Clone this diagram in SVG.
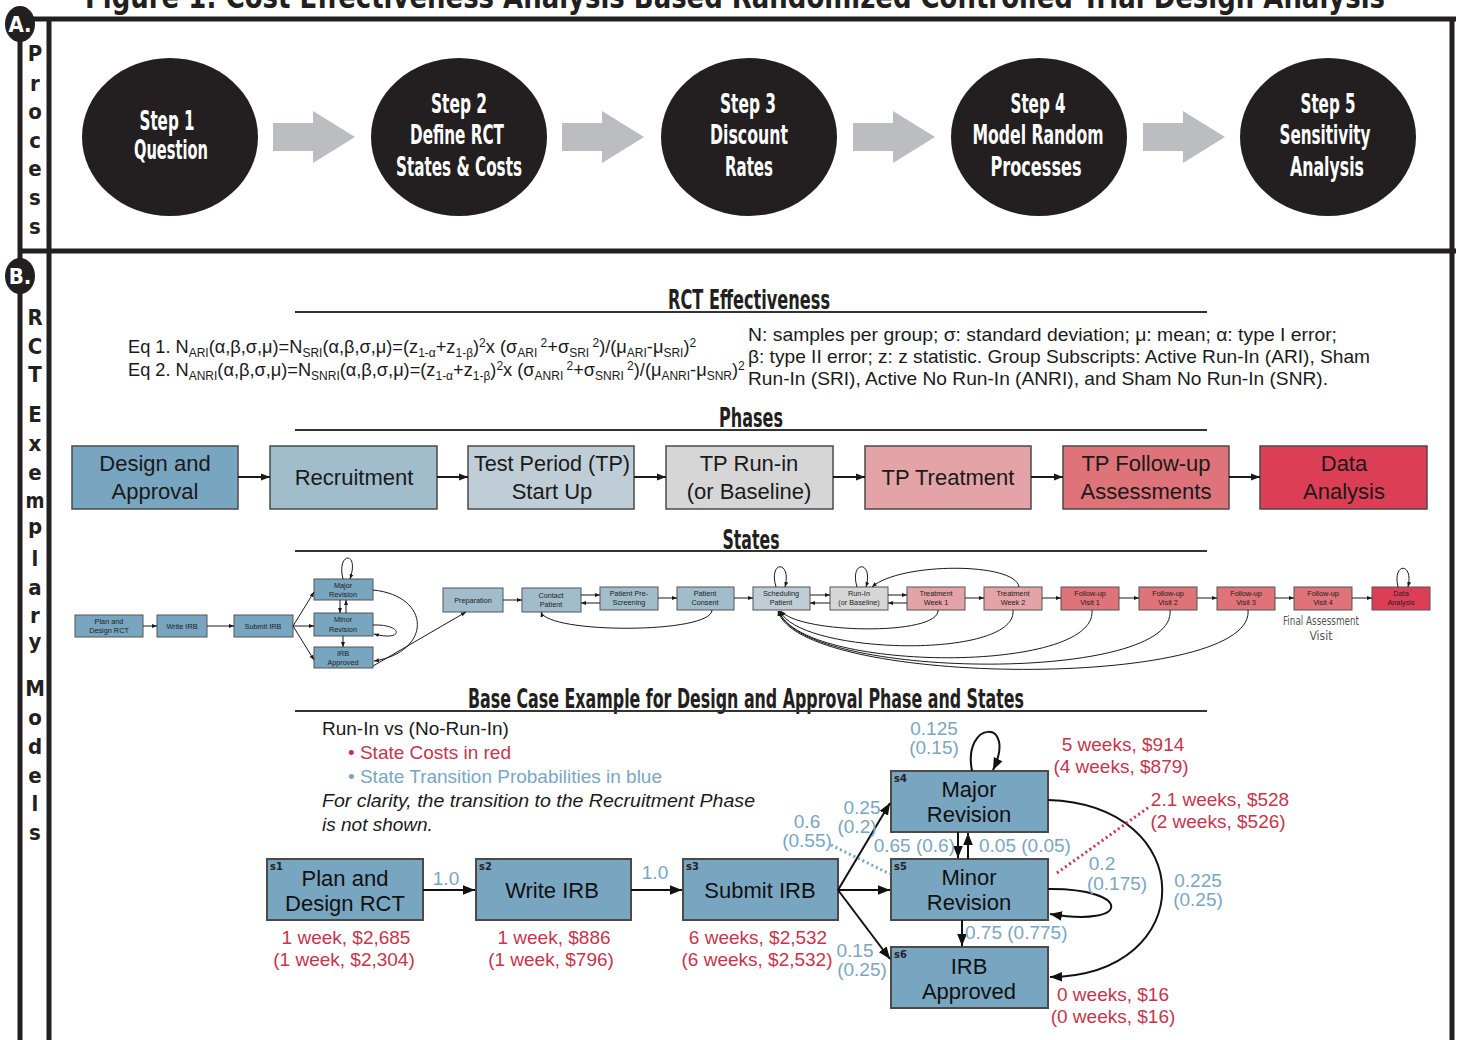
<svg xmlns="http://www.w3.org/2000/svg" width="1458" height="1040" viewBox="0 0 1458 1040">
<style>
.hd{font-family:"Liberation Sans Narrow","DejaVu Sans Condensed","Liberation Sans",sans-serif;font-weight:bold;fill:#231f20;text-anchor:middle}
.stp{font-family:"Liberation Sans Narrow","DejaVu Sans Condensed","Liberation Sans",sans-serif;font-weight:bold;fill:#fff;text-anchor:middle;font-size:27px}
.side{font-family:"Liberation Sans Narrow","DejaVu Sans Condensed","Liberation Sans",sans-serif;font-weight:bold;fill:#231f20;text-anchor:middle;font-size:22px}
.badge{font-family:"Liberation Sans Narrow","DejaVu Sans Condensed","Liberation Sans",sans-serif;font-weight:bold;fill:#fff;text-anchor:middle;font-size:22px}
.frame{stroke:#231f20;stroke-width:5;fill:none}
.eq{font-family:"Liberation Sans",Arial,sans-serif;font-size:18.2px;fill:#1a1a1a}
.sb{font-size:12px}
.ph{font-family:"Liberation Sans",Arial,sans-serif;font-size:22px;fill:#1a1a1a;text-anchor:middle}
.pbox{stroke:#4a4a4a;stroke-width:1.5}
.sbox{stroke:#555;stroke-width:1}
.st{font-family:"Liberation Sans",Arial,sans-serif;font-size:7.3px;fill:#222;text-anchor:middle}
.bx{font-family:"Liberation Sans",Arial,sans-serif;font-size:22px;fill:#111;text-anchor:middle}
.bbox{fill:#78a5c0;stroke:#4a4a4a;stroke-width:2}
.sl{font-family:"Liberation Sans Narrow","DejaVu Sans Condensed","Liberation Sans",sans-serif;font-weight:bold;font-size:11px;fill:#222}
.lb{font-family:"Liberation Sans",Arial,sans-serif;font-size:19px;text-anchor:middle}
.lbs{font-family:"Liberation Sans",Arial,sans-serif;font-size:19px;text-anchor:start}
.lbe{font-family:"Liberation Sans",Arial,sans-serif;font-size:19px;text-anchor:end}
.tx{font-family:"Liberation Sans",Arial,sans-serif;font-size:19px;fill:#1a1a1a}
.red{fill:#c8344c}
.blue{fill:#7aa6c3}
.c1{fill:#78a5c0}.c2{fill:#a1bdcc}.c3{fill:#bfcdd6}.c4{fill:#d6d6d6}.c5{fill:#e4a3a6}.c6{fill:#de7379}.c7{fill:#dc3e56}
.ln{stroke:#1a1a1a;stroke-width:1;fill:none}
.lnp{stroke:#1a1a1a;stroke-width:2;fill:none}
.lnb{stroke:#111;stroke-width:2;fill:none}
.garrow{fill:#bcbdc0}
</style>
<defs>
<marker id="ap" viewBox="0 0 10 10" refX="10" refY="5" markerWidth="9" markerHeight="9" orient="auto" markerUnits="userSpaceOnUse"><path d="M0,1 L10,5 L0,9 z" fill="#1a1a1a"/></marker>
<marker id="as" viewBox="0 0 10 10" refX="10" refY="5" markerWidth="5" markerHeight="5" orient="auto" markerUnits="userSpaceOnUse"><path d="M0,1 L10,5 L0,9 z" fill="#1a1a1a"/></marker>
<marker id="ab" viewBox="0 0 10 10" refX="10" refY="5" markerWidth="12" markerHeight="12" orient="auto" markerUnits="userSpaceOnUse"><path d="M0,1 L10,5 L0,9 z" fill="#111"/></marker>
</defs>
<rect width="1458" height="1040" fill="#fff"/>
<text class="hd" x="735" y="8" font-size="32" textLength="1300" lengthAdjust="spacingAndGlyphs">Figure 1: Cost Effectiveness Analysis Based Randomized Controlled Trial Design Analysis</text>

<g id="frame">
<line class="frame" x1="20" y1="19" x2="1456" y2="19"/>
<line class="frame" x1="20" y1="19" x2="20" y2="1040"/>
<line class="frame" x1="49" y1="19" x2="49" y2="1040"/>
<line class="frame" x1="1452" y1="19" x2="1452" y2="1040"/>
<line class="frame" x1="20" y1="251" x2="1456" y2="251"/>
<ellipse cx="20" cy="24" rx="15" ry="18" fill="#231f20"/>
<text class="badge" x="20" y="32">A.</text>
<ellipse cx="20" cy="276" rx="15" ry="18" fill="#231f20"/>
<text class="badge" x="20" y="284">B.</text>
<text class="side" x="35" y="61">P</text>
<text class="side" x="35" y="91">r</text>
<text class="side" x="35" y="119">o</text>
<text class="side" x="35" y="148">c</text>
<text class="side" x="35" y="176">e</text>
<text class="side" x="35" y="205">s</text>
<text class="side" x="35" y="234">s</text>
<text class="side" x="35" y="325">R</text>
<text class="side" x="35" y="354">C</text>
<text class="side" x="35" y="382">T</text>
<text class="side" x="35" y="422">E</text>
<text class="side" x="35" y="451">x</text>
<text class="side" x="35" y="480">e</text>
<text class="side" x="35" y="508" textLength="19" lengthAdjust="spacingAndGlyphs">m</text>
<text class="side" x="35" y="534">p</text>
<text class="side" x="35" y="566">l</text>
<text class="side" x="35" y="595">a</text>
<text class="side" x="35" y="623">r</text>
<text class="side" x="35" y="649">y</text>
<text class="side" x="35" y="696">M</text>
<text class="side" x="35" y="725">o</text>
<text class="side" x="35" y="754">d</text>
<text class="side" x="35" y="783">e</text>
<text class="side" x="35" y="811">l</text>
<text class="side" x="35" y="840">s</text>
</g>

<g id="process-arrows">
<path class="garrow" d="M273,123 H313 V111 L355,137 L313,163 V151 H273 Z"/>
<path class="garrow" d="M562,123 H602 V111 L644,137 L602,163 V151 H562 Z"/>
<path class="garrow" d="M853,123 H893 V111 L935,137 L893,163 V151 H853 Z"/>
<path class="garrow" d="M1143,123 H1183 V111 L1225,137 L1183,163 V151 H1143 Z"/>
</g>
<g id="step1"><ellipse cx="170" cy="137" rx="88" ry="79" fill="#231f20"/>
<text class="stp" x="167" y="130" textLength="55" lengthAdjust="spacingAndGlyphs">Step 1</text>
<text class="stp" x="171" y="159" textLength="74" lengthAdjust="spacingAndGlyphs">Question</text></g>
<g id="step2"><ellipse cx="459" cy="137" rx="88" ry="79" fill="#231f20"/>
<text class="stp" x="459" y="113" textLength="56" lengthAdjust="spacingAndGlyphs">Step 2</text>
<text class="stp" x="457" y="144" textLength="94" lengthAdjust="spacingAndGlyphs">Define RCT</text>
<text class="stp" x="459" y="176" textLength="126" lengthAdjust="spacingAndGlyphs">States &amp; Costs</text></g>
<g id="step3"><ellipse cx="749" cy="137" rx="88" ry="79" fill="#231f20"/>
<text class="stp" x="748" y="113" textLength="56" lengthAdjust="spacingAndGlyphs">Step 3</text>
<text class="stp" x="749" y="144" textLength="78" lengthAdjust="spacingAndGlyphs">Discount</text>
<text class="stp" x="749" y="176" textLength="48" lengthAdjust="spacingAndGlyphs">Rates</text></g>
<g id="step4"><ellipse cx="1039" cy="137" rx="88" ry="79" fill="#231f20"/>
<text class="stp" x="1038" y="113" textLength="55" lengthAdjust="spacingAndGlyphs">Step 4</text>
<text class="stp" x="1038" y="144" textLength="131" lengthAdjust="spacingAndGlyphs">Model Random</text>
<text class="stp" x="1036" y="176" textLength="91" lengthAdjust="spacingAndGlyphs">Processes</text></g>
<g id="step5"><ellipse cx="1328" cy="137" rx="88" ry="79" fill="#231f20"/>
<text class="stp" x="1328" y="113" textLength="55" lengthAdjust="spacingAndGlyphs">Step 5</text>
<text class="stp" x="1325" y="144" textLength="91" lengthAdjust="spacingAndGlyphs">Sensitivity</text>
<text class="stp" x="1327" y="176" textLength="74" lengthAdjust="spacingAndGlyphs">Analysis</text></g>

<g id="rct-effectiveness">
<text class="hd" x="749" y="309" font-size="26" textLength="162" lengthAdjust="spacingAndGlyphs">RCT Effectiveness</text>
<line x1="295" y1="312" x2="1207" y2="312" stroke="#333" stroke-width="2"/>
<text class="eq" x="128" y="353">Eq 1. N<tspan class="sb" dy="4">ARI</tspan><tspan dy="-4">(α,β,σ,μ)=N</tspan><tspan class="sb" dy="4">SRI</tspan><tspan dy="-4">(α,β,σ,μ)=(z</tspan><tspan class="sb" dy="4">1-α</tspan><tspan dy="-4">+z</tspan><tspan class="sb" dy="4">1-β</tspan><tspan dy="-4">)</tspan><tspan class="sb" dy="-6">2</tspan><tspan dy="6">x (σ</tspan><tspan class="sb" dy="4">ARI</tspan><tspan class="sb" dy="-10"> 2</tspan><tspan dy="6">+σ</tspan><tspan class="sb" dy="4">SRI</tspan><tspan class="sb" dy="-10"> 2</tspan><tspan dy="6">)/(μ</tspan><tspan class="sb" dy="4">ARI</tspan><tspan dy="-4">-μ</tspan><tspan class="sb" dy="4">SRI</tspan><tspan dy="-4">)</tspan><tspan class="sb" dy="-6">2</tspan></text>
<text class="eq" x="128" y="376">Eq 2. N<tspan class="sb" dy="4">ANRI</tspan><tspan dy="-4">(α,β,σ,μ)=N</tspan><tspan class="sb" dy="4">SNRI</tspan><tspan dy="-4">(α,β,σ,μ)=(z</tspan><tspan class="sb" dy="4">1-α</tspan><tspan dy="-4">+z</tspan><tspan class="sb" dy="4">1-β</tspan><tspan dy="-4">)</tspan><tspan class="sb" dy="-6">2</tspan><tspan dy="6">x (σ</tspan><tspan class="sb" dy="4">ANRI</tspan><tspan class="sb" dy="-10"> 2</tspan><tspan dy="6">+σ</tspan><tspan class="sb" dy="4">SNRI</tspan><tspan class="sb" dy="-10"> 2</tspan><tspan dy="6">)/(μ</tspan><tspan class="sb" dy="4">ANRI</tspan><tspan dy="-4">-μ</tspan><tspan class="sb" dy="4">SNR</tspan><tspan dy="-4">)</tspan><tspan class="sb" dy="-6">2</tspan></text>
<text class="eq" x="748" y="341" font-size="19" textLength="589" lengthAdjust="spacingAndGlyphs">N: samples per group; σ: standard deviation;  μ: mean; α: type I error;</text>
<text class="eq" x="748" y="363" font-size="19" textLength="622" lengthAdjust="spacingAndGlyphs">β: type II error; z: z statistic. Group Subscripts: Active Run-In (ARI), Sham</text>
<text class="eq" x="748" y="385" font-size="19" textLength="580" lengthAdjust="spacingAndGlyphs">Run-In (SRI), Active No Run-In (ANRI), and Sham No Run-In (SNR).</text>
</g>

<g id="phases-title">
<text class="hd" x="751" y="427" font-size="26" textLength="64" lengthAdjust="spacingAndGlyphs">Phases</text>
<line x1="295" y1="430" x2="1207" y2="430" stroke="#333" stroke-width="2"/>
</g>
<g id="ph1"><rect class="pbox c1" x="72" y="446" width="166" height="63"/><text class="ph" x="155" y="471">Design and</text><text class="ph" x="155" y="499">Approval</text></g>
<g id="ph2"><rect class="pbox c2" x="270" y="446" width="167" height="63"/><text class="ph" x="354" y="485">Recruitment</text></g>
<g id="ph3"><rect class="pbox c3" x="468" y="446" width="166" height="63"/><text class="ph" x="552" y="471" textLength="156" lengthAdjust="spacingAndGlyphs">Test Period (TP)</text><text class="ph" x="552" y="499">Start Up</text></g>
<g id="ph4"><rect class="pbox c4" x="666" y="446" width="167" height="63"/><text class="ph" x="749" y="471">TP Run-in</text><text class="ph" x="749" y="499">(or Baseline)</text></g>
<g id="ph5"><rect class="pbox c5" x="865" y="446" width="166" height="63"/><text class="ph" x="948" y="485">TP Treatment</text></g>
<g id="ph6"><rect class="pbox c6" x="1063" y="446" width="166" height="63"/><text class="ph" x="1146" y="471">TP Follow-up</text><text class="ph" x="1146" y="499">Assessments</text></g>
<g id="ph7"><rect class="pbox c7" x="1260" y="446" width="167" height="63"/><text class="ph" x="1344" y="471">Data</text><text class="ph" x="1344" y="499">Analysis</text></g>
<g id="phase-connectors">
<line class="lnp" x1="238" y1="477" x2="270" y2="477" marker-end="url(#ap)"/>
<line class="lnp" x1="437" y1="477" x2="468" y2="477" marker-end="url(#ap)"/>
<line class="lnp" x1="634" y1="477" x2="666" y2="477" marker-end="url(#ap)"/>
<line class="lnp" x1="833" y1="477" x2="865" y2="477" marker-end="url(#ap)"/>
<line class="lnp" x1="1031" y1="477" x2="1063" y2="477" marker-end="url(#ap)"/>
<line class="lnp" x1="1229" y1="477" x2="1260" y2="477" marker-end="url(#ap)"/>
</g>

<g id="states-title">
<text class="hd" x="751" y="549" font-size="26" textLength="57" lengthAdjust="spacingAndGlyphs">States</text>
<line x1="295" y1="551" x2="1207" y2="551" stroke="#333" stroke-width="2"/>
</g>
<g id="st-plan"><rect class="sbox c1" x="75" y="615" width="68" height="22"/><text class="st" x="109" y="624">Plan and</text><text class="st" x="109" y="633">Design RCT</text></g>
<g id="st-write"><rect class="sbox c1" x="157" y="615" width="50" height="22"/><text class="st" x="182" y="629">Write IRB</text></g>
<g id="st-submit"><rect class="sbox c1" x="234" y="615" width="59" height="22"/><text class="st" x="263" y="629">Submit IRB</text></g>
<g id="st-major"><rect class="sbox c1" x="314" y="579" width="59" height="21"/><text class="st" x="343" y="588">Major</text><text class="st" x="343" y="597">Revision</text></g>
<g id="st-minor"><rect class="sbox c1" x="314" y="613" width="59" height="23"/><text class="st" x="343" y="622">Minor</text><text class="st" x="343" y="632">Revision</text></g>
<g id="st-irb"><rect class="sbox c1" x="314" y="647" width="59" height="21"/><text class="st" x="343" y="656">IRB</text><text class="st" x="343" y="665">Approved</text></g>
<g id="st-prep"><rect class="sbox c2" x="443" y="588" width="60" height="24"/><text class="st" x="473" y="603">Preparation</text></g>
<g id="st-contact"><rect class="sbox c2" x="522" y="588" width="59" height="24"/><text class="st" x="551" y="598">Contact</text><text class="st" x="551" y="607">Patient</text></g>
<g id="st-prescreen"><rect class="sbox c2" x="600" y="587" width="58" height="23"/><text class="st" x="629" y="596">Patient Pre-</text><text class="st" x="629" y="605">Screening</text></g>
<g id="st-consent"><rect class="sbox c2" x="677" y="587" width="57" height="23"/><text class="st" x="705" y="596">Patient</text><text class="st" x="705" y="605">Consent</text></g>
<g id="st-sched"><rect class="sbox c3" x="753" y="587" width="57" height="23"/><text class="st" x="781" y="596">Scheduling</text><text class="st" x="781" y="605">Patient</text></g>
<g id="st-runin"><rect class="sbox c4" x="830" y="587" width="58" height="23"/><text class="st" x="859" y="596">Run-In</text><text class="st" x="859" y="605">(or Baseline)</text></g>
<g id="st-tw1"><rect class="sbox c5" x="907" y="587" width="58" height="23"/><text class="st" x="936" y="596">Treatment</text><text class="st" x="936" y="605">Week 1</text></g>
<g id="st-tw2"><rect class="sbox c5" x="984" y="587" width="58" height="23"/><text class="st" x="1013" y="596">Treatment</text><text class="st" x="1013" y="605">Week 2</text></g>
<g id="st-fu1"><rect class="sbox c6" x="1061" y="587" width="58" height="23"/><text class="st" x="1090" y="596">Follow-up</text><text class="st" x="1090" y="605">Visit 1</text></g>
<g id="st-fu2"><rect class="sbox c6" x="1139" y="587" width="58" height="23"/><text class="st" x="1168" y="596">Follow-up</text><text class="st" x="1168" y="605">Visit 2</text></g>
<g id="st-fu3"><rect class="sbox c6" x="1217" y="587" width="58" height="23"/><text class="st" x="1246" y="596">Follow-up</text><text class="st" x="1246" y="605">Visit 3</text></g>
<g id="st-fu4"><rect class="sbox c6" x="1294" y="587" width="58" height="23"/><text class="st" x="1323" y="596">Follow-up</text><text class="st" x="1323" y="605">Visit 4</text></g>
<g id="st-da"><rect class="sbox c7" x="1372" y="587" width="58" height="23"/><text class="st" x="1401" y="596">Data</text><text class="st" x="1401" y="605">Analysis</text></g>
<g id="final-assessment-label">
<text x="1321" y="625" font-family="Liberation Sans Narrow,DejaVu Sans Condensed,Liberation Sans,sans-serif" font-size="12" fill="#555" text-anchor="middle" textLength="76" lengthAdjust="spacingAndGlyphs">Final Assessment</text>
<text x="1321" y="640" font-family="Liberation Sans Narrow,DejaVu Sans Condensed,Liberation Sans,sans-serif" font-size="12" fill="#555" text-anchor="middle">Visit</text>
</g>
<g id="state-connectors">
<line class="ln" x1="143" y1="626" x2="157" y2="626" marker-end="url(#as)"/>
<line class="ln" x1="207" y1="626" x2="234" y2="626" marker-end="url(#as)"/>
<line class="ln" x1="293" y1="626" x2="314" y2="592" marker-end="url(#as)"/>
<line class="ln" x1="293" y1="626" x2="314" y2="626" marker-end="url(#as)"/>
<line class="ln" x1="293" y1="626" x2="314" y2="660" marker-end="url(#as)"/>
<line class="ln" x1="340" y1="600" x2="340" y2="613" marker-end="url(#as)"/>
<line class="ln" x1="346" y1="613" x2="346" y2="600" marker-end="url(#as)"/>
<line class="ln" x1="343" y1="636" x2="343" y2="647" marker-end="url(#as)"/>
<path class="ln" d="M343,579 C336,552 360,550 350,579" marker-end="url(#as)"/>
<path class="ln" d="M373,625 C404,624 404,642 374,634" marker-end="url(#as)"/>
<path class="ln" d="M373,590 C432,596 432,652 374,661" marker-end="url(#as)"/>
<line class="ln" x1="373" y1="666" x2="466" y2="612" marker-end="url(#as)"/>
<line class="ln" x1="503" y1="600" x2="522" y2="600" marker-end="url(#as)"/>
<line class="ln" x1="581" y1="595" x2="600" y2="595" marker-end="url(#as)"/>
<line class="ln" x1="600" y1="603" x2="581" y2="603" marker-end="url(#as)"/>
<line class="ln" x1="658" y1="598" x2="677" y2="598" marker-end="url(#as)"/>
<path class="ln" d="M712,610 C712,634 548,634 541,612" marker-end="url(#as)"/>
<line class="ln" x1="734" y1="598" x2="753" y2="598" marker-end="url(#as)"/>
<path class="ln" d="M776,587 C768,560 792,560 785,587" marker-end="url(#as)"/>
<line class="ln" x1="810" y1="595" x2="830" y2="595" marker-end="url(#as)"/>
<line class="ln" x1="830" y1="603" x2="810" y2="603" marker-end="url(#as)"/>
<path class="ln" d="M857,587 C849,560 874,560 866,587" marker-end="url(#as)"/>
<line class="ln" x1="888" y1="595" x2="907" y2="595" marker-end="url(#as)"/>
<line class="ln" x1="907" y1="603" x2="888" y2="603" marker-end="url(#as)"/>
<path class="ln" d="M1019,587 C1016,562 900,562 872,587" marker-end="url(#as)"/>
<line class="ln" x1="965" y1="598" x2="984" y2="598" marker-end="url(#as)"/>
<line class="ln" x1="1042" y1="598" x2="1061" y2="598" marker-end="url(#as)"/>
<line class="ln" x1="1119" y1="598" x2="1139" y2="598" marker-end="url(#as)"/>
<line class="ln" x1="1197" y1="598" x2="1217" y2="598" marker-end="url(#as)"/>
<line class="ln" x1="1275" y1="598" x2="1294" y2="598" marker-end="url(#as)"/>
<line class="ln" x1="1352" y1="598" x2="1372" y2="598" marker-end="url(#as)"/>
<path class="ln" d="M1398,587 C1392,562 1414,562 1408,587" marker-end="url(#as)"/>
<path class="ln" d="M938,610 C940,636 800,634 781,611" marker-end="url(#as)"/>
<path class="ln" d="M1013,610 C1018,660 800,655 780,611" marker-end="url(#as)"/>
<path class="ln" d="M1092,610 C1098,675 800,672 779,611" marker-end="url(#as)"/>
<path class="ln" d="M1170,610 C1178,684 800,680 779,611" marker-end="url(#as)"/>
<path class="ln" d="M1248,610 C1256,690 800,688 778,611" marker-end="url(#as)"/>
</g>

<g id="basecase-title">
<text class="hd" x="746" y="708" font-size="26" textLength="556" lengthAdjust="spacingAndGlyphs">Base Case Example for Design and Approval Phase and States</text>
<line x1="295" y1="711" x2="1207" y2="711" stroke="#333" stroke-width="2"/>
</g>
<g id="legend">
<text class="tx" x="322" y="735">Run-In vs (No-Run-In)</text>
<text class="tx red" x="348" y="759">• State Costs in red</text>
<text class="tx blue" x="348" y="783">• State Transition Probabilities in blue</text>
<text class="tx" x="322" y="807" font-style="italic" textLength="433" lengthAdjust="spacingAndGlyphs">For clarity, the transition to the Recruitment Phase</text>
<text class="tx" x="322" y="831" font-style="italic">is not shown.</text>
</g>
<g id="s1"><rect class="bbox" x="267" y="859" width="156" height="61"/><text class="sl" x="270" y="870">s1</text><text class="bx" x="345" y="886">Plan and</text><text class="bx" x="345" y="911">Design RCT</text></g>
<g id="s2"><rect class="bbox" x="476" y="859" width="155" height="61"/><text class="sl" x="479" y="870">s2</text><text class="bx" x="552" y="898">Write IRB</text></g>
<g id="s3"><rect class="bbox" x="683" y="859" width="155" height="61"/><text class="sl" x="686" y="870">s3</text><text class="bx" x="760" y="898">Submit IRB</text></g>
<g id="s4"><rect class="bbox" x="891" y="771" width="157" height="61"/><text class="sl" x="894" y="782">s4</text><text class="bx" x="969" y="797">Major</text><text class="bx" x="969" y="822">Revision</text></g>
<g id="s5"><rect class="bbox" x="891" y="859" width="157" height="61"/><text class="sl" x="894" y="870">s5</text><text class="bx" x="969" y="885">Minor</text><text class="bx" x="969" y="910">Revision</text></g>
<g id="s6"><rect class="bbox" x="891" y="947" width="157" height="61"/><text class="sl" x="894" y="958">s6</text><text class="bx" x="969" y="974">IRB</text><text class="bx" x="969" y="999">Approved</text></g>
<g id="basecase-connectors">
<line class="lnb" x1="423" y1="890" x2="475" y2="890" marker-end="url(#ab)"/>
<line class="lnb" x1="631" y1="890" x2="682" y2="890" marker-end="url(#ab)"/>
<line class="lnb" x1="838" y1="890" x2="890" y2="803" marker-end="url(#ab)"/>
<line class="lnb" x1="838" y1="890" x2="890" y2="890" marker-end="url(#ab)"/>
<line class="lnb" x1="838" y1="890" x2="890" y2="959" marker-end="url(#ab)"/>
<line class="lnb" x1="958" y1="832" x2="958" y2="858" marker-end="url(#ab)"/>
<line class="lnb" x1="968" y1="859" x2="968" y2="833" marker-end="url(#ab)"/>
<line class="lnb" x1="962" y1="920" x2="962" y2="946" marker-end="url(#ab)"/>
<path class="lnb" d="M972,771 C962,720 1018,718 993,770" marker-end="url(#ab)"/>
<path class="lnb" d="M1048,800 C1200,805 1200,975 1050,977" marker-end="url(#ab)"/>
<path class="lnb" d="M1048,889 C1132,888 1132,928 1050,914" marker-end="url(#ab)"/>
<line x1="831" y1="845" x2="890" y2="874" stroke="#7aa6c3" stroke-width="3" stroke-dasharray="2 3"/>
<line x1="1057" y1="873" x2="1149" y2="807" stroke="#c8344c" stroke-width="3" stroke-dasharray="2 3"/>
</g>
<g id="labels">
<text class="lb blue" x="446" y="885">1.0</text>
<text class="lb blue" x="655" y="879">1.0</text>
<text class="lb blue" x="934" y="735">0.125</text>
<text class="lb blue" x="934" y="754">(0.15)</text>
<text class="lb blue" x="862" y="814">0.25</text>
<text class="lb blue" x="857" y="833">(0.2)</text>
<text class="lb blue" x="807" y="828">0.6</text>
<text class="lb blue" x="807" y="847">(0.55)</text>
<text class="lbe blue" x="955" y="852">0.65 (0.6)</text>
<text class="lbs blue" x="979" y="852">0.05 (0.05)</text>
<text class="lb blue" x="1102" y="870">0.2</text>
<text class="lb blue" x="1117" y="890">(0.175)</text>
<text class="lb blue" x="1198" y="887">0.225</text>
<text class="lb blue" x="1198" y="906">(0.25)</text>
<text class="lbs blue" x="965" y="939">0.75 (0.775)</text>
<text class="lb blue" x="855" y="957">0.15</text>
<text class="lb blue" x="862" y="976">(0.25)</text>
<text class="lb red" x="346" y="944">1 week, $2,685</text>
<text class="lb red" x="344" y="966">(1 week, $2,304)</text>
<text class="lb red" x="554" y="944">1 week, $886</text>
<text class="lb red" x="551" y="966">(1 week, $796)</text>
<text class="lb red" x="758" y="944">6 weeks, $2,532</text>
<text class="lb red" x="757" y="966">(6 weeks, $2,532)</text>
<text class="lb red" x="1123" y="751">5 weeks, $914</text>
<text class="lb red" x="1121" y="773">(4 weeks, $879)</text>
<text class="lb red" x="1220" y="806">2.1 weeks, $528</text>
<text class="lb red" x="1218" y="828">(2 weeks, $526)</text>
<text class="lb red" x="1113" y="1001">0 weeks, $16</text>
<text class="lb red" x="1113" y="1023">(0 weeks, $16)</text>
</g>
</svg>
